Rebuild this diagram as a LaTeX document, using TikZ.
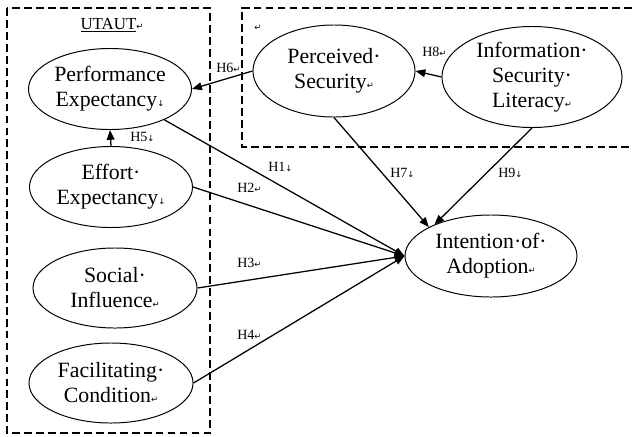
\documentclass[tikz,border=0pt]{standalone}
\usepackage{fontspec}
\setmainfont{Liberation Serif}
\newfontfamily\markfont{DejaVu Sans}
\usepackage{tikz}
\usetikzlibrary{shapes.geometric,arrows.meta}

\newcommand{\crmark}{{\markfont\fontsize{6}{6}\selectfont ↵}}
\newcommand{\brmark}{{\markfont\fontsize{6}{6}\selectfont ↓}}

\begin{document}
\begin{tikzpicture}[x=0.025cm,y=-0.025cm,
	construct/.style={ellipse,draw,line width=0.7pt,inner sep=0pt,align=center,font=\fontsize{15.5}{17.8}\selectfont},
	hyp/.style={anchor=west,inner sep=0pt,font=\fontsize{10}{12}\selectfont},
	groupbox/.style={line width=1.4pt,dash pattern=on 5.5pt off 3pt},
	effect/.style={line width=0.9pt,-{Triangle[length=7pt,width=5.5pt]}}]
	\useasboundingbox (0,0) rectangle (632,436);

	\draw[groupbox] (7,8) rectangle (210,433);
	\draw[groupbox] (632,8) -- (242,8) -- (242,147) -- (632,147);
	\node[inner sep=0pt,font=\fontsize{12}{14}\selectfont] (utautLbl) at (112,25) {\underline{UTAUT}\crmark};
	\node[inner sep=0pt] (secLbl) at (258,28) {\crmark};

	\node[construct,minimum width=4.075cm,minimum height=2.025cm] (perfExp) at (110,89) {Performance\\Expectancy\brmark};
	\node[construct,minimum width=4.075cm,minimum height=2.025cm] (effortExp) at (111,187) {Effort·\\Expectancy\brmark};
	\node[construct,minimum width=4.1cm,minimum height=2cm] (socialInf) at (115,288) {Social·\\Influence\crmark};
	\node[construct,minimum width=4.1cm,minimum height=2cm] (facCond) at (111,383) {Facilitating·\\Condition\crmark};
	\node[construct,minimum width=4.05cm,minimum height=2.3cm] (percSec) at (334,71) {Perceived·\\Security\crmark};
	\node[construct,minimum width=4.5cm,minimum height=2.525cm] (infoSecLit) at (532,77) {Information·\\Security·\\Literacy\crmark};
	\node[construct,minimum width=4.3cm,minimum height=2.05cm] (intAdopt) at (491,256) {Intention·of·\\Adoption\crmark};

\draw[effect](percSec.west) -- (perfExp.east);
\draw[effect](effortExp.north) -- (perfExp.south);
\draw[effect](infoSecLit.west) -- (percSec.east);
\draw[effect](perfExp) -- (intAdopt.west);
\draw[effect](effortExp.east) -- (intAdopt.west);
\draw[effect](socialInf.east) -- (intAdopt.west);
\draw[effect](facCond.east) -- (intAdopt.west);
\draw[effect](percSec.south) -- (intAdopt.155);
\draw[effect](infoSecLit.south) -- (intAdopt.151);

	\node[hyp] (lblH1) at (268,167) {H1\brmark};
	\node[hyp] (lblH2) at (237,188) {H2\crmark};
	\node[hyp] (lblH3) at (237,263) {H3\crmark};
	\node[hyp] (lblH4) at (237,335) {H4\crmark};
	\node[hyp] (lblH5) at (130,137) {H5\brmark};
	\node[hyp] (lblH6) at (216,68) {H6\crmark};
	\node[hyp] (lblH7) at (390,173) {H7\brmark};
	\node[hyp] (lblH8) at (422,52) {H8\crmark};
	\node[hyp] (lblH9) at (498,173) {H9\brmark};

\end{tikzpicture}
\end{document}
